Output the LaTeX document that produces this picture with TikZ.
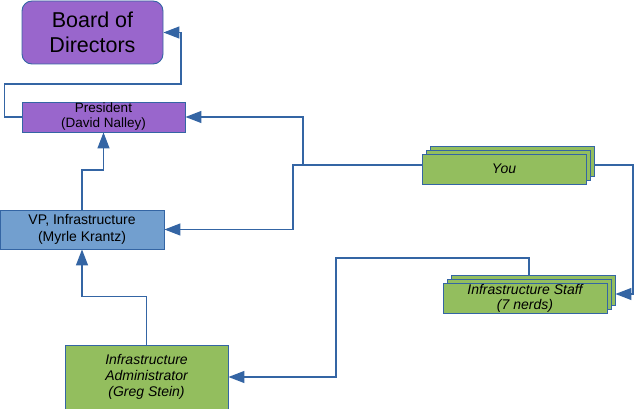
\documentclass[tikz,border=0pt]{standalone}
\usepackage{fontspec}
\setmainfont{Liberation Sans}
\usetikzlibrary{arrows.meta,calc}
\definecolor{lineblue}{HTML}{3465A4}
\definecolor{purp}{HTML}{9966CC}
\definecolor{vpblue}{HTML}{729FCF}
\definecolor{grn}{HTML}{93BE5E}
\tikzset{
  box/.style={draw=lineblue,line width=0.9pt,inner sep=0pt,align=center,text=black},
  purplebox/.style={box,fill=purp},
  greenbox/.style={box,fill=grn},
  conn/.style={draw=lineblue,line width=1.3pt,-{Triangle[length=16pt,width=12pt]}}
}
\begin{document}
\begin{tikzpicture}[x=1pt,y=-1pt]
\useasboundingbox (0,0) rectangle (635,409);
% nodes
\node[purplebox,rounded corners=10pt,minimum width=141pt,minimum height=63pt,
  font=\fontsize{21.5}{25}\selectfont] (board) at (92.5,32.5) {Board of\\Directors};
\node[purplebox,minimum width=163pt,minimum height=30pt,
  font=\fontsize{13.5}{15}\selectfont] (pres) at (103.5,117) {President\\(David Nalley)};
\node[box,fill=vpblue,minimum width=164pt,minimum height=39pt,
  font=\fontsize{14}{16.5}\selectfont] (vp) at (82,229.5) {VP, Infrastructure\\(Myrle Krantz)};
\node[greenbox,minimum width=163pt,minimum height=64pt,
  font=\fontsize{14}{16}\selectfont\itshape] (admin) at (146.5,377) {Infrastructure\\Administrator\\(Greg Stein)};
% You stack
\node[greenbox,minimum width=164pt,minimum height=30pt] (youB) at (512,161) {};
\node[greenbox,minimum width=164pt,minimum height=30pt] (youM) at (508,165) {};
\node[greenbox,minimum width=164pt,minimum height=30pt,
  font=\fontsize{14}{15}\selectfont\itshape] (youF) at (504,169) {You};
% Staff stack
\node[greenbox,minimum width=164pt,minimum height=30pt] (staffB) at (533,290) {};
\node[greenbox,minimum width=164pt,minimum height=30pt] (staffM) at (529,294) {};
\node[greenbox,minimum width=164pt,minimum height=30pt,
  font=\fontsize{14}{15}\selectfont\itshape] (staffF) at (525,298) {Infrastructure Staff\\(7 nerds)};
% connectors
\draw[conn] (pres.west) -- ++(-17,0) |- (181,84) |- (board.east);
\draw[conn] (vp.north) -- (vp.north |- 0,170) -| (pres.south);
\draw[conn] (admin.north) -- ++(0,-48) -| (vp.south);
\coordinate (j) at (303,165);
\draw[conn] (youF.west |- youM) -- (293,165) |- (vp.east);
\draw[conn] (j) |- (pres.east);
\draw[conn] (youB.east |- youM) -- (633,165) |- (staffB.east |- staffM);
\draw[conn] (staffB.north -| staffM) |- (336,258) |- (admin.east);
\end{tikzpicture}
\end{document}
